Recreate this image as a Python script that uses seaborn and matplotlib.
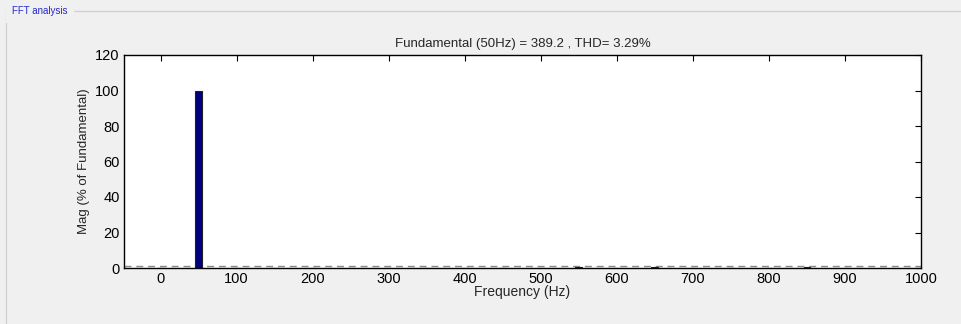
import numpy as np
import pandas as pd
import seaborn as sns
import matplotlib.pyplot as plt
import matplotlib.transforms as mtransforms
from matplotlib.lines import Line2D

# harmonic spectrum, % of fundamental
freq = [0, 50, 100, 150, 200, 250, 300, 350, 400, 450, 500,
        550, 600, 650, 700, 750, 800, 850, 900, 950, 1000]
mag = [0.05, 100, 0.05, 0.1, 0.05, 0.1, 0.05, 0.1, 0.05, 0.1, 0.05,
       0.6, 0.05, 0.5, 0.05, 0.1, 0.05, 0.45, 0.05, 0.1, 0.05]
xticks = list(range(0, 1001, 100))
yticks = list(range(0, 121, 20))

df = pd.DataFrame({'freq': freq, 'mag': mag})

sns.set_style('white')
plt.rcParams['font.family'] = ['Liberation Sans', 'DejaVu Sans']

fig = plt.figure(figsize=(9.62, 3.24), dpi=100)
fig.patch.set_facecolor('#f0f0f0')

# group box frame (only top and left edges visible)
fy = 1 - 11 / 324
fx = 6 / 962
fig.lines.append(Line2D([fx, 1], [fy, fy], transform=fig.transFigure,
                        color='#cfcfcf', linewidth=0.9))
fig.lines.append(Line2D([fx, fx], [0, fy], transform=fig.transFigure,
                        color='#cfcfcf', linewidth=0.9))
fig.text(12 / 962, fy, 'FFT analysis', color='#2828c8', fontsize=7,
         va='center', ha='left', backgroundcolor='#f0f0f0')

ax = fig.add_axes([124 / 962, 1 - 268 / 324, 797 / 962, 213 / 324])
ax.set_facecolor('white')

# dashed baseline, nudged a couple of pixels above the bottom spine
shift = mtransforms.offset_copy(ax.get_yaxis_transform(), fig=fig, x=0, y=1.6, units='dots')
ax.plot([0, 1], [0, 0], transform=shift, color='#8a8a8a',
        linestyle=(0, (5, 3.5)), linewidth=1, zorder=1)
sns.barplot(data=df, x='freq', y='mag', native_scale=True, width=0.18,
            color='#000080', saturation=1, edgecolor='#202020', linewidth=0.8,
            ax=ax, zorder=2)

ax.set_xlim(-48, 1000)
ax.set_ylim(0, 120)
ax.set_xticks(xticks)
ax.set_yticks(yticks)
ax.tick_params(direction='in', top=True, right=True, length=4, width=0.8,
               labelsize=10.5, pad=3, colors='black')
for s in ax.spines.values():
    s.set_visible(True)
    s.set_color('black')
    s.set_linewidth(1)

ax.set_title('Fundamental (50Hz) = 389.2 , THD= 3.29%', fontsize=9.5, pad=6)
ax.set_xlabel('Frequency (Hz)', fontsize=10, labelpad=-1)
ax.set_ylabel('Mag (% of Fundamental)', fontsize=9.5, labelpad=4)

fig.savefig('out.png', dpi=100, facecolor=fig.get_facecolor())
